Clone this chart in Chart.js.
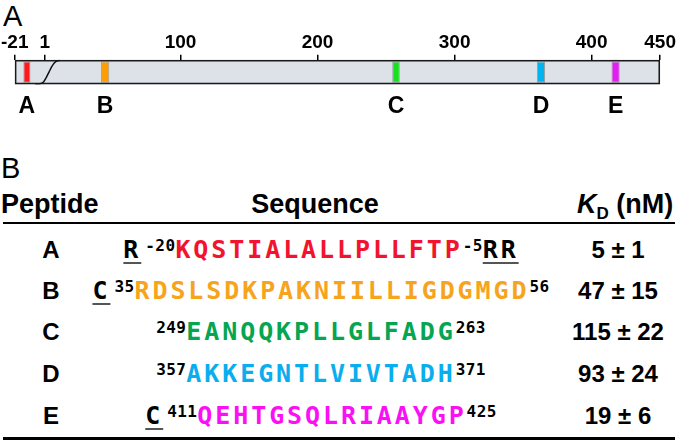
<!DOCTYPE html>
<html>
<head>
<meta charset="utf-8">
<script src="https://cdn.jsdelivr.net/npm/chart.js@4.4.1/dist/chart.umd.min.js"></script>
<style>
  html, body { margin: 0; padding: 0; background: #fff; }
  body { width: 677px; height: 443px; position: relative; overflow: hidden;
         font-family: "Liberation Sans", Arial, sans-serif; color: #000; }
  .panel { position: absolute; font-size: 29px; line-height: 30px; }
  #mapBox { position: absolute; left: 0; top: 0; width: 677px; height: 124px; }
  .hdr { position: absolute; top: 189px; font-weight: bold; font-size: 27px; line-height: 30px; }
  .rule { position: absolute; left: 3px; width: 672px; background: #000; }
  .row { position: absolute; left: 0; width: 677px; height: 36px; line-height: 36px; }
  .row > div { position: absolute; top: 0; white-space: nowrap; }
  .pep { left: 0; width: 102px; text-align: center; font-weight: bold; font-size: 24px; }
  .seq { left: 0; width: 642px; text-align: center; font-family: "DejaVu Sans Mono", monospace;
         font-weight: bold; font-size: 25px; letter-spacing: 2.9px; }
  .seq .flank { color: #000; text-decoration: underline; text-decoration-color: #555;
                text-decoration-thickness: 2px; text-underline-offset: 4px; }
  .seq .flank.left { margin-right: 4px; }
  .seq sup { font-size: 16px; letter-spacing: 0.4px; color: #000; vertical-align: baseline;
             position: relative; top: -7px; }
  .kd { left: 560px; width: 116px; text-align: center; font-weight: bold; font-size: 24px; }
</style>
</head>
<body>
<div class="panel" style="left:3px; top:1px;">A</div>
<div id="mapBox"><canvas id="map" width="677" height="124"></canvas></div>

<div class="panel" style="left:1px; top:153px;">B</div>
<div class="hdr" style="left:1px;">Peptide</div>
<div class="hdr" style="left:215px; width:200px; text-align:center;">Sequence</div>
<div class="hdr" style="left:570px; width:110px; text-align:center;"><i>K</i><span style="font-size:17px; position:relative; top:6px;">D</span> (nM)</div>
<div class="rule" style="top:222px; height:2px;"></div>
<div id="rows"></div>
<div class="rule" style="top:437px; height:3px;"></div>

<script>
// residue axis
const AXIS_MIN = -21;
const AXIS_MAX = 450;
const tickValues = [-21, 1, 100, 200, 300, 400, 450];

// peptide windows as drawn on the map (residue units)
const peptideNames = ['A', 'B', 'C', 'D', 'E'];
const segStart = [-14.7, 42, 254.5, 360, 414.5];
const segEnd = [-9.5, 48, 260, 366, 420.5];
const segColors = ['#ff1a1a', '#ff9d00', '#13e21c', '#00b4f0', '#e21ef0'];

// signal peptide cleavage curve (x in residues, y 0 = bottom edge, 1 = top edge)
const curveX = [-6, -2.5, 0, 2, 4, 6, 8, 10, 12];
const curveY = [0.02, 0.03, 0.1, 0.28, 0.5, 0.72, 0.88, 0.96, 0.98];

// table
const flankLeft = ['R', 'C', '', '', 'C'];
const startNums = ['-20', '35', '249', '357', '411'];
const sequences = ['KQSTIALALLPLLFTP', 'RDSLSDKPAKNIILLIGDGMGD', 'EANQQKPLLGLFADG', 'AKKEGNTLVIVTADH', 'QEHTGSQLRIAAYGP'];
const endNums = ['-5', '56', '263', '371', '425'];
const flankRight = ['RR', '', '', '', ''];
const kdValues = ['5 ± 1', '47 ± 15', '115 ± 22', '93 ± 24', '19 ± 6'];
const textColors = ['#f2142e', '#f7a41d', '#05a552', '#0aaeee', '#fb10f5'];
const rowTops = [232, 273, 314, 356, 398];

// ── Table rows ───────────────────────────────────────────
const rowsEl = document.getElementById('rows');
peptideNames.forEach((name, i) => {
  const row = document.createElement('div');
  row.className = 'row';
  row.style.top = rowTops[i] + 'px';
  let seq = '';
  if (flankLeft[i]) seq += `<span class="flank left">${flankLeft[i]}</span>`;
  seq += `<sup>${startNums[i]}</sup>`;
  seq += `<span style="color:${textColors[i]}">${sequences[i]}</span>`;
  seq += `<sup>${endNums[i]}</sup>`;
  if (flankRight[i]) seq += `<span class="flank">${flankRight[i]}</span>`;
  row.innerHTML = `<div class="pep">${name}</div><div class="seq">${seq}</div><div class="kd">${kdValues[i]}</div>`;
  rowsEl.appendChild(row);
});

// ── Protein map ──────────────────────────────────────────
const labelFont = { family: '"Liberation Sans", Arial, sans-serif', weight: 'bold' };

const datasets = [{
  label: 'protein',
  data: [[AXIS_MIN, AXIS_MAX]],
  backgroundColor: '#dde1e8',
  borderColor: '#1a1a1a',
  borderWidth: 2,
  borderSkipped: false,
  grouped: false,
  barPercentage: 1,
  categoryPercentage: 1,
  order: 3,
}];

peptideNames.forEach((name, i) => {
  datasets.push({
    label: name,
    data: [[segStart[i], segEnd[i]]],
    backgroundColor: segColors[i],
    borderColor: 'rgba(0,0,0,0.3)',
    borderWidth: 1,
    borderSkipped: false,
    grouped: false,
    barPercentage: 0.86,
    categoryPercentage: 1,
    order: 2,
  });
});

datasets.push({
  type: 'line',
  label: 'signal',
  indexAxis: 'x',
  xAxisID: 'x',
  yAxisID: 'yc',
  data: curveX.map((x, i) => ({ x, y: curveY[i] })),
  borderColor: '#111',
  borderWidth: 1.5,
  pointRadius: 0,
  cubicInterpolationMode: 'monotone',
  fill: false,
  order: 1,
});

new Chart(document.getElementById('map'), {
  type: 'bar',
  data: { labels: ['protein'], datasets },
  options: {
    indexAxis: 'y',
    responsive: false,
    animation: false,
    devicePixelRatio: 1,
    layout: { padding: { left: 13, right: 14, top: 30, bottom: 4 } },
    plugins: { legend: { display: false }, tooltip: { enabled: false } },
    scales: {
      x: {
        type: 'linear',
        position: 'top',
        min: AXIS_MIN,
        max: AXIS_MAX,
        afterBuildTicks: ax => { ax.ticks = tickValues.map(v => ({ value: v })); },
        ticks: { color: '#000', font: { ...labelFont, size: 19 }, padding: 1, autoSkip: false, maxRotation: 0 },
        grid: { drawOnChartArea: false, drawTicks: true, tickLength: 5, color: '#000', lineWidth: 1.5 },
        border: { display: false },
      },
      xl: {
        type: 'linear',
        position: 'bottom',
        min: AXIS_MIN,
        max: AXIS_MAX,
        afterBuildTicks: ax => { ax.ticks = segStart.map((s, i) => ({ value: (s + segEnd[i]) / 2 })); },
        ticks: {
          color: '#000', font: { ...labelFont, size: 23 }, padding: 0, autoSkip: false, maxRotation: 0,
          callback: (v, i) => peptideNames[i],
        },
        grid: { display: false },
        border: { display: false },
      },
      y: { type: 'category', display: false },
      // inherits the index-axis defaults, so the offset has to be switched off
      yc: { type: 'linear', axis: 'y', min: 0, max: 1, offset: false, display: false },
    },
  },
});
</script>
</body>
</html>
